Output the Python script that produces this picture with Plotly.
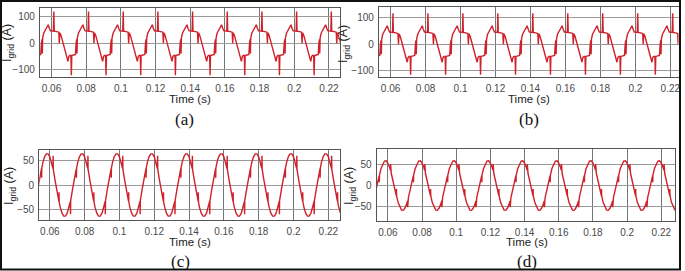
import plotly.graph_objects as go

W, H = 685, 271

# ---------------- data ----------------
x_ticks = [0.06, 0.08, 0.10, 0.12, 0.14, 0.16, 0.18, 0.20, 0.22]
x_tick_labels = ["0.06", "0.08", "0.1", "0.12", "0.14", "0.16", "0.18", "0.2", "0.22"]
y_ticks_ab = [-100, 0, 100]
y_ticks_cd = [-50, 0, 50]
period_s = 0.02
cycle_index = [2, 3, 4, 5, 6, 7, 8, 9, 10, 11]

# one 20 ms cycle of each waveform (phase in ms, current in A)
phase_a = [0.0, 1.1, 1.35, 1.6, 3.0, 4.2, 4.5, 4.8, 5.5, 6.5, 7.5, 8.3, 9.0, 9.5, 10.0,
           10.5, 11.2, 11.45, 11.7, 13.0, 13.8, 14.2, 14.5, 14.7, 14.9, 15.5, 16.5,
           17.5, 18.1, 18.7, 19.4]
current_a = [47, 46, 120, 46, 44, 42, 0, 40, 30, 5, -25, -45, -62, -68, -50,
             -46, -46, -120, -46, -44, -42, 0, 15, -38, 20, 38, 50,
             65, 70, 57, 47]

phase_b = [0.0, 1.1, 1.35, 1.6, 3.0, 4.2, 4.5, 4.8, 5.5, 6.5, 7.5, 8.3, 9.0, 9.5, 10.0,
           10.5, 11.2, 11.45, 11.7, 13.0, 13.8, 14.2, 14.5, 14.7, 14.9, 15.5, 16.5,
           17.5, 18.1, 18.7, 19.4]
current_b = [46, 45, 117, 45, 43, 41, 0, 40, 30, 5, -25, -45, -62, -68, -50,
             -46, -46, -115, -46, -44, -42, 0, 15, -38, 20, 38, 50,
             65, 70, 57, 46]

phase_c = [0.0, 1.0, 1.8, 1.9, 2.0, 3.0, 4.0, 5.2, 5.3, 5.4, 6.0, 7.0, 8.0, 9.0,
           10.0, 11.0, 11.8, 11.9, 12.0, 13.0, 14.0, 15.2, 15.3, 15.4, 16.0, 17.0,
           18.0, 19.0]
current_c = [58, 46, 34, 60, 32, 10, -10, -33, -15, -35, -46, -58, -64, -64,
             -58, -46, -34, -60, -32, -10, 10, 33, 15, 35, 46, 58,
             64, 64]

phase_d = [0.0, 1.0, 1.5, 1.6, 1.7, 2.0, 3.0, 4.0, 4.9, 5.0, 5.1, 6.0, 7.0, 8.0, 9.0,
           10.0, 11.0, 11.5, 11.6, 11.7, 12.0, 13.0, 14.0, 14.9, 15.0, 15.1, 16.0,
           17.0, 18.0, 19.0]
current_d = [54, 44, 37, 52, 36, 29, 11, -7.5, -24, -8, -25, -41, -52.5, -59, -59.5,
             -54, -44, -37, -52, -36, -29, -11, 7.5, 24, 8, 25, 41,
             52.5, 59, 59.5]


def build_series(phase_ms, values):
    t, v = [], []
    for k in cycle_index:
        for p, val in zip(phase_ms, values):
            t.append(k * period_s + p / 1000.0)
            v.append(val)
    return t, v


# ---------------- layout helpers (pixel -> paper) ----------------
def px(x):
    return x / W


def py(y):
    return 1 - y / H


panels = [
    ("a", phase_a, current_a, [0.0533, 0.2262], [-128, 132], (40, 340.7, 8.3, 77.3), y_ticks_ab),
    ("b", phase_b, current_b, [0.0533, 0.2247], [-125, 140], (380, 680.5, 7.3, 77.3), y_ticks_ab),
    ("c", phase_c, current_c, [0.0539, 0.2267], [-72, 72], (39.3, 341, 150, 220), y_ticks_cd),
    ("d", phase_d, current_d, [0.0534, 0.2282], [-84, 88], (377.7, 677.3, 149, 220.5), y_ticks_cd),
]

text_pos = {
    "a": {"time": (190.7, 99.3), "label": (185, 119), "ytitle": (8, 43)},
    "b": {"time": (530.7, 99.3), "label": (531, 119.3), "ytitle": (345, 44)},
    "c": {"time": (190.7, 242.3), "label": (181, 261), "ytitle": (10, 186)},
    "d": {"time": (528.3, 242.3), "label": (528.5, 261.7), "ytitle": (351, 186)},
}

fig = go.Figure()
layout = {}
annotations = []
tick_font = dict(family="Liberation Sans, Arial, sans-serif", size=10, color="#4a4a4a")
title_font = dict(family="Liberation Sans, Arial, sans-serif", size=11.5, color="#222222")
ytitle_font = dict(family="Liberation Sans, Arial, sans-serif", size=12.5, color="#222222")

for i, (name, ph, vals, xr, yr, dom, yt) in enumerate(panels):
    n = "" if i == 0 else str(i + 1)
    t, v = build_series(ph, vals)
    fig.add_trace(go.Scatter(
        x=t, y=v, mode="lines", xaxis="x" + n, yaxis="y" + n,
        line=dict(color="#d0202a", width=1.4), showlegend=False, hoverinfo="skip",
    ))
    x0, x1, y0, y1 = dom
    layout["xaxis" + n] = dict(
        domain=[px(x0), px(x1)], anchor="y" + n, range=xr,
        tickvals=x_ticks, ticktext=x_tick_labels, tickfont=tick_font,
        showgrid=True, gridcolor="#777777", gridwidth=1, zeroline=False,
        showline=True, linecolor="#555555", linewidth=1, mirror=True, ticks="",
        ticklabelstandoff=2,
    )
    layout["yaxis" + n] = dict(
        domain=[py(y1), py(y0)], anchor="x" + n, range=yr,
        tickvals=yt, tickfont=tick_font,
        showgrid=True, gridcolor="#9a9a9a", gridwidth=1, zeroline=False,
        showline=True, linecolor="#555555", linewidth=1, mirror=True, ticks="",
        ticklabelstandoff=2,
    )
    tp = text_pos[name]
    annotations.append(dict(text="Time (s)", x=px(tp["time"][0]), y=py(tp["time"][1]),
                            xref="paper", yref="paper", showarrow=False,
                            xanchor="center", yanchor="middle", font=title_font))
    annotations.append(dict(text="(" + name + ")", x=px(tp["label"][0]), y=py(tp["label"][1]),
                            xref="paper", yref="paper", showarrow=False,
                            xanchor="center", yanchor="middle",
                            font=dict(family="Liberation Serif, Times New Roman, serif",
                                      size=17, color="#111111")))
    annotations.append(dict(text="I<sub>grid</sub> (A)", x=px(tp["ytitle"][0]), y=py(tp["ytitle"][1]),
                            xref="paper", yref="paper", showarrow=False, textangle=-90,
                            xanchor="center", yanchor="middle", font=ytitle_font))

fig.update_layout(
    width=W, height=H,
    margin=dict(l=0, r=0, t=0, b=0),
    paper_bgcolor="white", plot_bgcolor="white",
    annotations=annotations,
    shapes=[dict(type="rect", xref="paper", yref="paper",
                 x0=px(1), x1=px(682), y0=py(269.5), y1=py(1),
                 line=dict(color="#111111", width=2))],
    **layout,
)

fig.write_html(
    "out.html",
    config={"displayModeBar": False},
    post_script="document.documentElement.style.margin='0';"
                "document.body.style.margin='0';document.body.style.padding='0';"
                "document.body.style.overflow='hidden';",
)
